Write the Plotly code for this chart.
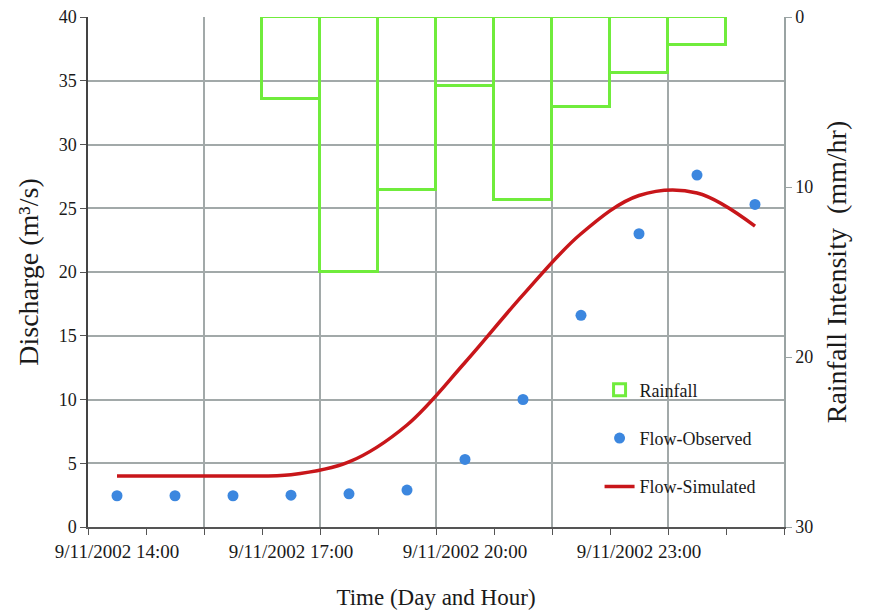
import plotly.graph_objects as go

# ---- data ----
times = ["9/11/2002 14:00", "9/11/2002 15:00", "9/11/2002 16:00", "9/11/2002 17:00",
         "9/11/2002 18:00", "9/11/2002 19:00", "9/11/2002 20:00", "9/11/2002 21:00",
         "9/11/2002 22:00", "9/11/2002 23:00", "9/12/2002 00:00", "9/12/2002 01:00"]
flow_observed = [2.45, 2.45, 2.45, 2.5, 2.6, 2.9, 5.3, 10.0, 16.6, 23.0, 27.6, 25.3]
flow_simulated = [4.0, 4.0, 4.0, 4.1, 5.1, 8.0, 12.9, 18.2, 23.0, 26.0, 26.2, 23.6]
rain_times = ["9/11/2002 17:00", "9/11/2002 18:00", "9/11/2002 19:00", "9/11/2002 20:00",
              "9/11/2002 21:00", "9/11/2002 22:00", "9/11/2002 23:00", "9/12/2002 00:00"]
rainfall = [4.8, 15.0, 10.2, 4.05, 10.75, 5.3, 3.3, 1.65]
label_times = ["9/11/2002 14:00", "9/11/2002 17:00", "9/11/2002 20:00", "9/11/2002 23:00"]

pos = {t: i for i, t in enumerate(times)}
x_all = [pos[t] for t in times]
x_rain = [pos[t] for t in rain_times]
x_labels = [pos[t] for t in label_times]
n = len(times)

FONT = "Liberation Serif"
GRID = "#a2a9a9"

fig = go.Figure()
fig.add_trace(go.Bar(
    x=x_rain, y=rainfall, name="Rainfall", xaxis="x2", yaxis="y2", width=1,
    marker=dict(color="rgba(0,0,0,0)", line=dict(color="#70ec3c", width=3)),
    legendgroup="a", legendrank=1))
fig.add_trace(go.Scatter(
    x=x_all, y=flow_observed, name="Flow-Observed", mode="markers",
    marker=dict(color="#3c87df", size=11), legendgroup="b", legendrank=2))
fig.add_trace(go.Scatter(
    x=x_all, y=flow_simulated, name="Flow-Simulated", mode="lines",
    line=dict(color="#c8161a", width=3.5, shape="spline", smoothing=1.0),
    legendgroup="c", legendrank=3))

xr = [-0.5, n - 0.5]
fig.update_layout(
    width=869, height=612,
    margin=dict(l=88, r=85, t=17, b=85, autoexpand=False),
    paper_bgcolor="white", plot_bgcolor="white",
    font=dict(family=FONT, size=18, color="#1a1a1a"),
    showlegend=True,
    legend=dict(x=0.735, y=0.305, xanchor="left", yanchor="top",
                bgcolor="rgba(0,0,0,0)", tracegroupgap=22,
                font=dict(family=FONT, size=18)),
    bargap=0,
    xaxis=dict(
        range=xr, tickmode="array", tickvals=x_labels, ticktext=label_times,
        ticks="outside", ticklen=6, tickcolor="rgba(0,0,0,0)",
        showgrid=False, zeroline=False, automargin=False,
        showline=True, linecolor="#555555", linewidth=2,
        minor=dict(tickmode="linear", tick0=-0.5, dtick=1, ticks="outside",
                   ticklen=6, tickcolor="#555555", showgrid=False),
        title=dict(text="Time (Day and Hour)", font=dict(size=23), standoff=28),
        tickfont=dict(size=19),
    ),
    xaxis2=dict(
        overlaying="x", matches="x", range=xr, anchor="y2", automargin=False,
        tickmode="linear", tick0=1.5, dtick=2,
        showgrid=True, gridcolor=GRID, gridwidth=1.5,
        showticklabels=False, ticks="", showline=False, zeroline=False,
    ),
    yaxis=dict(
        range=[0, 40], tickmode="linear", tick0=0, dtick=5,
        ticks="outside", ticklen=6, tickcolor="#555555",
        showgrid=True, gridcolor=GRID, gridwidth=1.5, zeroline=False,
        showline=True, linecolor="#444444", linewidth=1.5, automargin=False,
        title=dict(text="Discharge (m³/s)", font=dict(size=28), standoff=12),
        tickfont=dict(size=18),
    ),
    yaxis2=dict(
        overlaying="y", side="right", anchor="x2", range=[30, 0],
        tickmode="array", tickvals=[0, 10, 20, 30],
        ticks="outside", ticklen=6, tickcolor="#9aa3a3",
        showgrid=False, zeroline=False, automargin=False,
        showline=True, linecolor="#9aa3a3", linewidth=1.5,
        title=dict(text="Rainfall Intensity  (mm/hr)", font=dict(size=28), standoff=14),
        tickfont=dict(size=18),
    ),
)

fig.write_html("out.html")
